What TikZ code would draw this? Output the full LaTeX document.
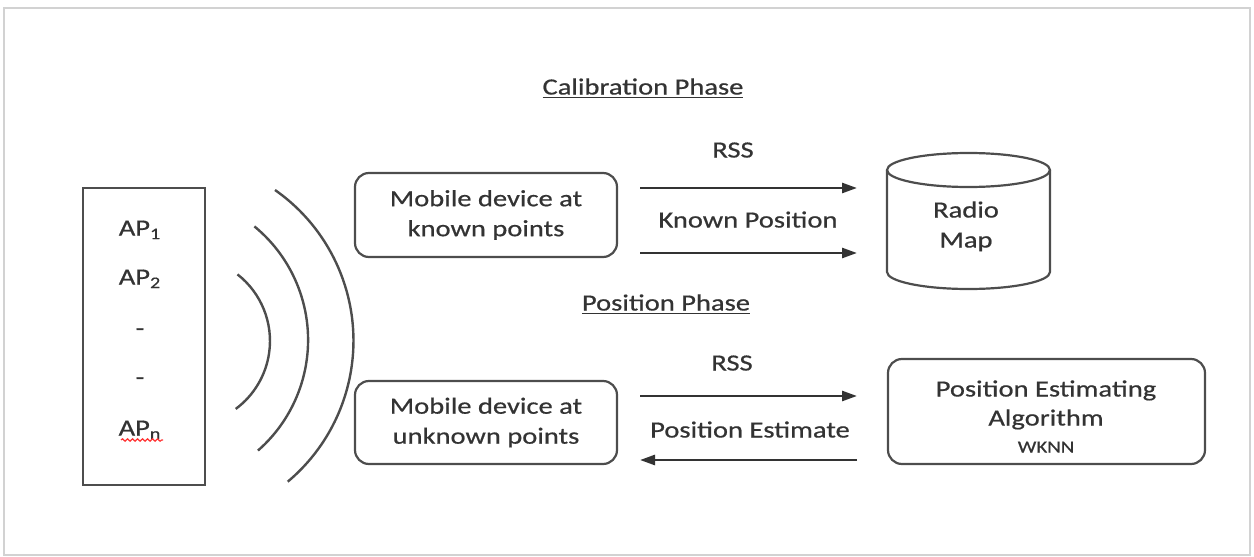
\documentclass[tikz,border=0pt]{standalone}
\usepackage{fontspec}
\setmainfont{Carlito}[FakeStretch=1.23,FakeBold=0.6]
\usetikzlibrary{arrows.meta,decorations.pathmorphing}
\definecolor{ink}{HTML}{333333}
\definecolor{edge}{HTML}{4D4D4D}
\begin{document}
\begin{tikzpicture}[x=0.5pt,y=-0.5pt,
  txt/.style={font=\fontsize{11.6}{15}\selectfont, text=ink, inner sep=0pt, align=center},
  lbl/.style={txt, anchor=base},
  rbox/.style={draw=edge, line width=1.1pt, rounded corners=7pt},
  flow/.style={draw=ink, line width=1.3pt, -{Triangle[length=7.5pt,width=5pt]}},
  wave/.style={draw=edge, line width=1.2pt}]
\useasboundingbox (0,0) rectangle (1254,557);
\draw[gray!35, line width=1pt] (4,8) rectangle (1250,555);

% access point box
\node[draw=edge, line width=1.1pt, minimum width=61pt, minimum height=148.5pt, inner sep=0pt] (apbox) at (144,336.5) {};
\node[lbl] (ap1) at (140,235.5) {AP\textsubscript{1}};
\node[lbl] (ap2) at (140,284.5) {AP\textsubscript{2}};
\node[txt] (dot1) at (140,332) {-};
\node[txt] (dot2) at (140,381) {-};
\node[lbl] (apn) at (140,435.5) {AP\textsubscript{n}};
\draw[red!80, line width=0.6pt, decorate, decoration={snake, amplitude=0.6pt, segment length=2.5pt}] (121,440) -- (163,440);

% signal waves
\draw[wave] (237.5,274.4) arc[start angle=-52, end angle=53.5, radius=84.5];
\draw[wave] (254.4,226.4) arc[start angle=-50.6, end angle=48.8, radius=147];
\draw[wave] (275,190) arc[start angle=-55, end angle=50, radius=184];

% calibration phase
\node[lbl] (calib) at (643,94.5) {\underline{Calibration Phase}};
\node[rbox, txt, minimum width=131pt, minimum height=42pt] (known) at (486,215) {Mobile device at\\known points};
\node[lbl] (rss1) at (733,157.5) {RSS};
\node[lbl] (kpos) at (748,227.5) {Known Position};
\coordinate (a1s) at (640,188); \coordinate (a1e) at (857,188);
\coordinate (a2s) at (640,253); \coordinate (a2e) at (857,253);
\draw[flow] (a1s) -- (a1e);
\draw[flow] (a2s) -- (a2e);

% radio map cylinder
\draw[edge, line width=1.1pt] (887,170) -- (887,272) arc[start angle=180, end angle=0, x radius=81.5, y radius=17] -- (1050,170);
\draw[edge, line width=1.1pt] (968.5,170) ellipse[x radius=81.5, y radius=17];
\node[lbl] (radio) at (966,217.5) {Radio};
\node[lbl] (map) at (966,247.5) {Map};

% position phase
\node[lbl] (posph) at (666,310.5) {\underline{Position Phase}};
\node[rbox, txt, minimum width=131pt, minimum height=41.5pt] (unknown) at (486,422.5) {Mobile device at\\unknown points};
\node[lbl] (rss2) at (732,370.5) {RSS};
\node[lbl] (pest) at (750,437.5) {Position Estimate};
\coordinate (a3s) at (640,396); \coordinate (a3e) at (857,396);
\coordinate (a4s) at (857,460); \coordinate (a4e) at (640,460);
\draw[flow] (a3s) -- (a3e);
\draw[flow] (a4s) -- (a4e);

\node[rbox, minimum width=158.5pt, minimum height=52.5pt, inner sep=0pt] (pea) at (1046.5,411.5) {};
\node[lbl] (pea1) at (1046,396.5) {Position Estimating};
\node[lbl] (pea2) at (1046,425.5) {Algorithm};
\node[lbl, font=\fontsize{8.5}{10}\selectfont] (pea3) at (1046,452.5) {WKNN};
\end{tikzpicture}
\end{document}
